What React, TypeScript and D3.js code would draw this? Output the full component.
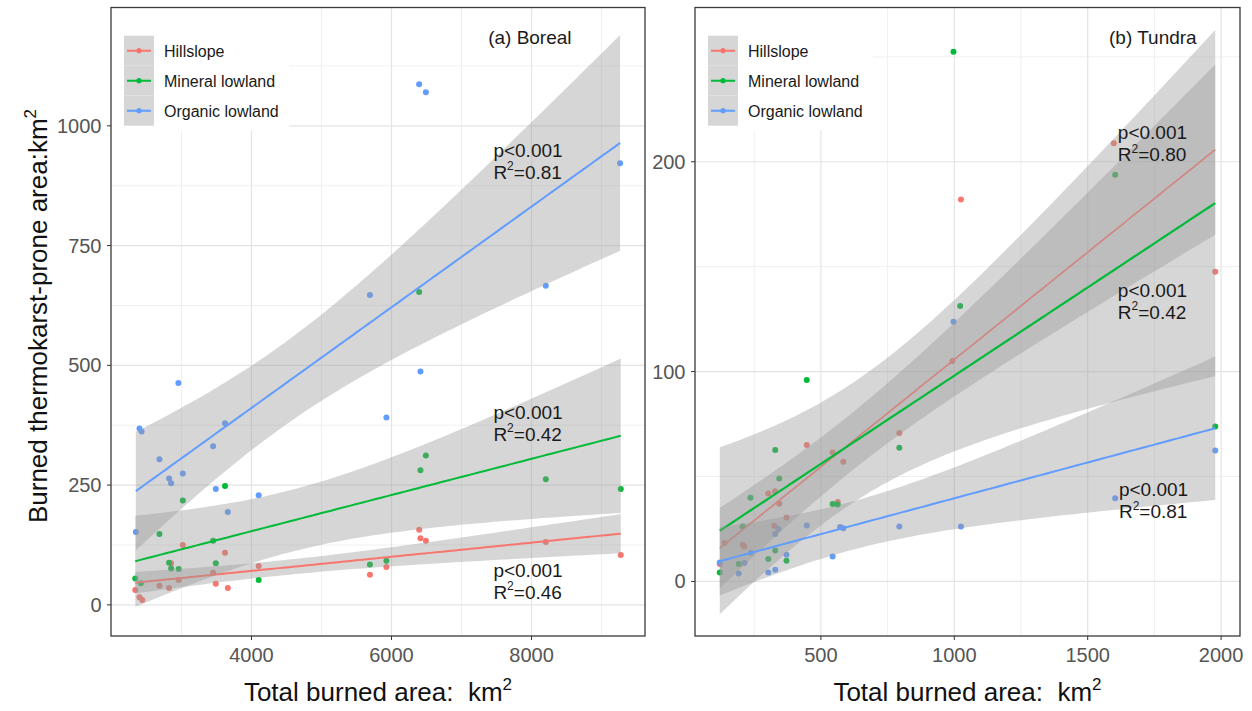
import React from 'react';
import * as d3 from 'd3';

type Pt = [number, number];

// legend / series
const seriesNames = ['Hillslope', 'Mineral lowland', 'Organic lowland'];
const seriesColors = ['#F8766D', '#00BA38', '#619CFF'];

// (a) Boreal: [total burned area, burned thermokarst-prone area], km2
const borealHillslope: Pt[] = [
  [2340, 31], [2400, 16], [2440, 10], [2685, 40], [2823, 35], [2852, 87], [2960, 52],
  [3019, 125], [3452, 67], [3490, 44], [3622, 109], [3662, 35], [4103, 81], [5692, 63],
  [5927, 79], [6395, 157], [6413, 139], [6491, 134], [8204, 131], [9274, 104],
];
const borealMineral: Pt[] = [
  [2340, 55], [2420, 45], [2685, 148], [2823, 88], [2852, 76], [2960, 75], [3019, 218],
  [3452, 134], [3490, 87], [3622, 248], [4103, 52], [5692, 84], [5927, 92], [6395, 653],
  [6413, 281], [6491, 312], [8204, 262], [9274, 242],
];
const borealOrganic: Pt[] = [
  [2348, 152], [2400, 368], [2430, 362], [2685, 304], [2823, 264], [2852, 254], [2956, 463],
  [3019, 274], [3452, 331], [3490, 242], [3622, 379], [3662, 194], [4103, 229], [5692, 647],
  [5927, 391], [6395, 1087], [6413, 487], [6491, 1070], [8204, 666], [9265, 922],
];

// (b) Tundra
const tundraHillslope: Pt[] = [
  [121, 8.3], [139, 18.3], [207, 17.5], [213, 16.7], [303, 41.9], [325, 26.5], [328, 43],
  [344, 37], [371, 30.5], [447, 65], [544, 61.4], [563, 37.8], [584, 57], [794, 70.7],
  [993, 105], [1025, 182], [1598, 208.8], [1978, 147.6],
];
const tundraMineral: Pt[] = [
  [121, 4.3], [192, 8.3], [207, 26.2], [236, 39.9], [303, 10.7], [329, 62.6], [329, 14.8],
  [344, 49], [371, 9.9], [447, 96], [544, 36.9], [563, 36.7], [794, 63.7], [997, 252.4],
  [1022, 131.3], [1603, 193.8], [1978, 73.8],
];
const tundraOrganic: Pt[] = [
  [121, 9], [192, 3.8], [213, 8.8], [238, 13.7], [303, 4.3], [329, 5.6], [329, 22.6], [340, 25],
  [371, 12.7], [447, 26.7], [544, 11.9], [572, 26], [584, 25.4], [794, 26.2], [997, 123.8],
  [1025, 26.2], [1603, 39.7], [1978, 62.4],
];

// axis breaks and limits
const borealXTicks = [4000, 6000, 8000];
const borealXMinor = [3000, 5000, 7000, 9000];
const borealYTicks = [0, 250, 500, 750, 1000];
const borealYMinor = [125, 375, 625, 875, 1125];
const borealYLimits = [-65, 1247];
const tundraXTicks = [500, 1000, 1500, 2000];
const tundraXMinor = [250, 750, 1250, 1750];
const tundraYTicks = [0, 100, 200];
const tundraYMinor = [50, 150, 250];
const tundraYLimits = [-26, 273.5];

// annotation text per series (p value, R2) and where annotate() put them (data units)
const borealP = ['p<0.001', 'p<0.001', 'p<0.001'];
const borealR2 = ['0.46', '0.42', '0.81'];
const borealNoteAt: Pt[] = [[7455, 73], [7455, 403], [7455, 950]];
const tundraP = ['p<0.001', 'p<0.001', 'p<0.001'];
const tundraR2 = ['0.80', '0.42', '0.81'];
const tundraNoteAt: Pt[] = [[1613, 214], [1613, 139], [1617, 44]];

const FONT = '"Liberation Sans", Arial, Helvetica, sans-serif';

function tCrit(df: number) {
  return 1.959964 + 2.37228 / df + 2.82202 / (df * df) + 2.56449 / (df * df * df);
}

type Row = { x: number; fit: number; lo: number; hi: number };

// lm(y ~ x) with 95% confidence band, like geom_smooth(method = "lm")
function lmBand(pts: Pt[]): Row[] {
  const n = pts.length;
  const mx = d3.mean(pts, d => d[0])!;
  const my = d3.mean(pts, d => d[1])!;
  const sxx = d3.sum(pts, d => (d[0] - mx) ** 2);
  const sxy = d3.sum(pts, d => (d[0] - mx) * (d[1] - my));
  const b = sxy / sxx;
  const a = my - b * mx;
  const s = Math.sqrt(d3.sum(pts, d => (d[1] - a - b * d[0]) ** 2) / (n - 2));
  const t = tCrit(n - 2);
  const [x0, x1] = d3.extent(pts, d => d[0]) as [number, number];
  return d3.range(80).map(i => {
    const x = x0 + ((x1 - x0) * i) / 79;
    const fit = a + b * x;
    const se = s * Math.sqrt(1 / n + (x - mx) ** 2 / sxx);
    return { x, fit, lo: fit - t * se, hi: fit + t * se };
  });
}

function expand(pts: Pt[][]): [number, number] {
  const [lo, hi] = d3.extent(pts.flat(), d => d[0]) as [number, number];
  const pad = (hi - lo) * 0.05;
  return [lo - pad, hi + pad];
}

function Panel(props: any) {
  const { id, box, groups, xMajor, xMinor, yMajor, yMinor, yLimits, pLabels, r2Labels,
    noteAt, tag, tagAt, lineW } = props;
  const x = d3.scaleLinear().domain(expand(groups)).range([box.left, box.right]);
  const y = d3.scaleLinear().domain(yLimits).range([box.bottom, box.top]);
  const bands = groups.map((g: Pt[]) => lmBand(g));
  const area = d3.area<Row>().x(d => x(d.x)).y0(d => y(d.lo)).y1(d => y(d.hi));
  const line = d3.line<Row>().x(d => x(d.x)).y(d => y(d.fit));
  const cx = (box.left + box.right) / 2;

  return (
    <g>
      <clipPath id={id}>
        <rect x={box.left} y={box.top} width={box.right - box.left} height={box.bottom - box.top} />
      </clipPath>
      <g clipPath={`url(#${id})`}>
        {xMinor.map((v: number) => (
          <line key={'xm' + v} x1={x(v)} x2={x(v)} y1={box.top} y2={box.bottom} stroke="#f0f0f0" strokeWidth={1} />
        ))}
        {yMinor.map((v: number) => (
          <line key={'ym' + v} x1={box.left} x2={box.right} y1={y(v)} y2={y(v)} stroke="#f0f0f0" strokeWidth={1} />
        ))}
        {xMajor.map((v: number) => (
          <line key={'xM' + v} x1={x(v)} x2={x(v)} y1={box.top} y2={box.bottom} stroke="#e4e4e4" strokeWidth={1.2} />
        ))}
        {yMajor.map((v: number) => (
          <line key={'yM' + v} x1={box.left} x2={box.right} y1={y(v)} y2={y(v)} stroke="#e4e4e4" strokeWidth={1.2} />
        ))}
        {groups.map((g: Pt[], i: number) =>
          g.map((p, j) => <circle key={i + '-' + j} cx={x(p[0])} cy={y(p[1])} r={3} fill={seriesColors[i]} />)
        )}
        {bands.map((b: Row[], i: number) => (
          <g key={'band' + i}>
            <path d={area(b)!} fill="#999999" fillOpacity={0.4} />
            <path d={line(b)!} fill="none" stroke={seriesColors[i]} strokeWidth={lineW[i]} />
          </g>
        ))}

        {/* legend inside the panel */}
        <rect x={box.left} y={box.top} width={178} height={123} fill="#ffffff" />
        {seriesNames.map((name, i) => {
          const ky = 35.7 + 30 * i;
          const kx = box.left + 13;
          return (
            <g key={name}>
              <rect x={kx} y={ky} width={30} height={30} fill="#d6d6d6" />
              <line x1={kx + 3} x2={kx + 27} y1={ky + 15} y2={ky + 15} stroke={seriesColors[i]} strokeWidth={2} />
              <circle cx={kx + 15} cy={ky + 15} r={2.6} fill={seriesColors[i]} />
              <text x={box.left + 53} y={ky + 21} fontSize={16} fill="#1a1a1a">{name}</text>
            </g>
          );
        })}

        <text x={x(tagAt[0])} y={y(tagAt[1]) + 6.5} fontSize={19} fill="#1a1a1a">{tag}</text>

        {pLabels.map((p: string, i: number) => (
          <g key={'note' + i} fill="#1a1a1a">
            <text x={x(noteAt[i][0])} y={y(noteAt[i][1]) + 6.8} fontSize={19}>{p}</text>
            <text x={x(noteAt[i][0])} y={y(noteAt[i][1]) + 29} fontSize={19}>
              R<tspan dy={-8.5} fontSize={12}>2</tspan><tspan dy={8.5} fontSize={19}>{'=' + r2Labels[i]}</tspan>
            </text>
          </g>
        ))}
      </g>

      <rect x={box.left} y={box.top} width={box.right - box.left} height={box.bottom - box.top}
        fill="none" stroke="#3a3a3a" strokeWidth={1.3} />

      {xMajor.map((v: number) => (
        <g key={'xt' + v}>
          <line x1={x(v)} x2={x(v)} y1={box.bottom} y2={box.bottom + 4} stroke="#333" />
          <text x={x(v)} y={box.bottom + 26} textAnchor="middle" fontSize={20} fill="#555">{v}</text>
        </g>
      ))}
      {yMajor.map((v: number) => (
        <g key={'yt' + v}>
          <line x1={box.left - 4} x2={box.left} y1={y(v)} y2={y(v)} stroke="#333" />
          <text x={box.left - 9.5} y={y(v) + 7} textAnchor="end" fontSize={20} fill="#555">{v}</text>
        </g>
      ))}
      <text x={cx} y={701} textAnchor="middle" fontSize={26} fill="#111" style={{ whiteSpace: 'pre' }}>
        {'Total burned area:  km'}<tspan dy={-11} fontSize={17}>2</tspan>
      </text>
    </g>
  );
}

export default function App() {
  const boreal = [borealHillslope, borealMineral, borealOrganic];
  const tundra = [tundraHillslope, tundraMineral, tundraOrganic];
  return (
    <svg width={1252} height={711} fontFamily={FONT}
      style={{ position: 'absolute', left: 0, top: 0, background: '#fff' }}>
      <rect width={1252} height={711} fill="#fff" />
      <text transform="translate(47,316) rotate(-90)" textAnchor="middle" fontSize={26} fill="#111">
        Burned thermokarst-prone area:km<tspan dy={-11} fontSize={17}>2</tspan>
      </text>
      <Panel id="clipA" box={{ left: 111, right: 645, top: 7.5, bottom: 636 }} groups={boreal}
        xMajor={borealXTicks} xMinor={borealXMinor} yMajor={borealYTicks} yMinor={borealYMinor}
        yLimits={borealYLimits} pLabels={borealP} r2Labels={borealR2} noteAt={borealNoteAt}
        tag="(a) Boreal" tagAt={[7380, 1184]} lineW={[2, 2, 2]} />
      <Panel id="clipB" box={{ left: 695, right: 1240, top: 7.5, bottom: 636 }} groups={tundra}
        xMajor={tundraXTicks} xMinor={tundraXMinor} yMajor={tundraYTicks} yMinor={tundraYMinor}
        yLimits={tundraYLimits} pLabels={tundraP} r2Labels={tundraR2} noteAt={tundraNoteAt}
        tag="(b) Tundra" tagAt={[1580, 259]} lineW={[1.6, 2.2, 2]} />
    </svg>
  );
}
